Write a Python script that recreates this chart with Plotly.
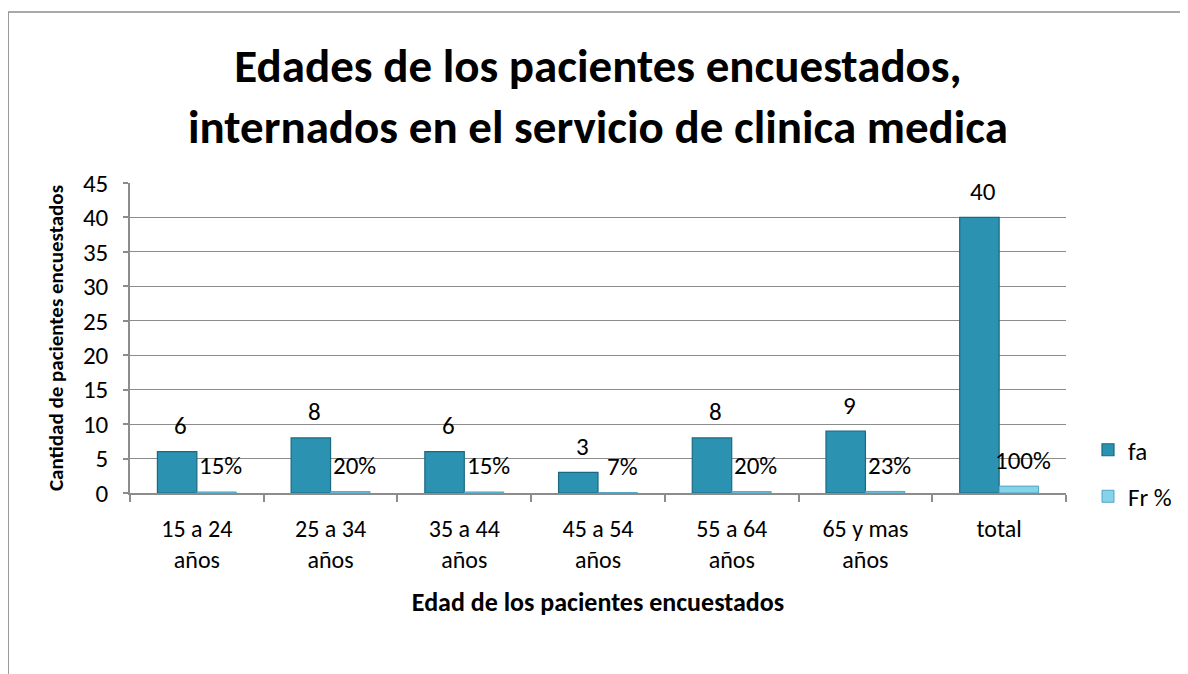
import plotly.graph_objects as go

categories = ["15 a 24<br>años", "25 a 34<br>años", "35 a 44<br>años", "45 a 54<br>años",
              "55 a 64<br>años", "65 y mas<br>años", "total"]
fa_values = [6, 8, 6, 3, 8, 9, 40]
fr_values = [0.15, 0.20, 0.15, 0.07, 0.20, 0.23, 1.00]
fa_labels = ["6", "8", "6", "3", "8", "9", "40"]
fr_labels = ["15%", "20%", "15%", "7%", "20%", "23%", "100%"]

# page body has an 8px margin, so the figure is 8px smaller than the window
OFF = 8
W, H = 1188 - OFF, 674 - OFF
ML, MT = 130 - OFF, 183 - OFF
PW, PH = 937, 310
MR, MB = W - ML - PW, H - MT - PH

FONT = "Calibri, Carlito, Lato, sans-serif"

fig = go.Figure()
fig.add_trace(go.Bar(
    name="fa", x=categories, y=fa_values, legendgroup="fa",
    marker=dict(color="#2b92b1", line=dict(color="#1b6880", width=1.2)),
))
fig.add_trace(go.Bar(
    name="Fr %", x=categories, y=fr_values, legendgroup="fr",
    marker=dict(color="#86d2e8", line=dict(color="#4ea7c3", width=1)),
))

annotations = []
for c, v, t in zip(categories, fa_values, fa_labels):
    annotations.append(dict(x=c, y=v, text=t, xref="x", yref="y", showarrow=False,
                            xshift=-16, yshift=26, yanchor="middle",
                            font=dict(family=FONT, size=25, color="#000")))
for c, v, t in zip(categories, fr_values, fr_labels):
    annotations.append(dict(x=c, y=v, text=t, xref="x", yref="y", showarrow=False,
                            xshift=24, yshift=26, yanchor="middle",
                            font=dict(family=FONT, size=25, color="#000")))

# chart area border (top and left), as in the source picture
bx0 = (8 - OFF - ML) / PW
bx1 = (W - ML) / PW
by_top = (MT + PH - (12 - OFF)) / PH
by_bot = (MT + PH - H) / PH
shapes = [
    dict(type="line", xref="paper", yref="paper", x0=bx0, x1=bx1, y0=by_top, y1=by_top,
         line=dict(color="#8c8c8c", width=1.5)),
    dict(type="line", xref="paper", yref="paper", x0=bx0, x1=bx0, y0=by_top, y1=by_bot,
         line=dict(color="#8c8c8c", width=1.5)),
]

fig.update_layout(
    width=W, height=H,
    margin=dict(l=ML, r=MR, t=MT, b=MB),
    paper_bgcolor="white", plot_bgcolor="white",
    barmode="group", bargap=0.41, bargroupgap=0,
    title=dict(text="<b>Edades de los pacientes encuestados,<br>internados en el servicio de clinica medica</b>",
               x=0.5, xref="container", xanchor="center",
               y=1 - (82 - OFF) / H, yref="container", yanchor="middle",
               font=dict(family=FONT, size=47, color="#000")),
    font=dict(family=FONT, size=24, color="#000"),
    legend=dict(x=(1088 - OFF - ML) / PW, xanchor="left",
                y=(MT + PH - (427 - OFF)) / PH, yanchor="top",
                traceorder="grouped", tracegroupgap=11,
                font=dict(family=FONT, size=25, color="#000"), bgcolor="rgba(0,0,0,0)"),
    annotations=annotations,
    shapes=shapes,
    showlegend=True,
)
fig.update_xaxes(
    type="category", showline=True, linecolor="#8c8c8c", linewidth=1.5,
    ticks="outside", tickson="boundaries", ticklen=7, tickcolor="#8c8c8c", tickwidth=1.5,
    showgrid=False, ticklabelstandoff=13,
    tickfont=dict(family=FONT, size=24, color="#000"),
    title=dict(text="<b>Edad de los pacientes encuestados</b>", standoff=20,
               font=dict(family=FONT, size=26, color="#000")),
)
fig.update_yaxes(
    range=[0, 45], dtick=5, tick0=0, showline=True, linecolor="#8c8c8c", linewidth=1.5,
    ticks="outside", ticklen=5, tickcolor="#8c8c8c", tickwidth=1.5,
    showgrid=True, gridcolor="#8c8c8c", gridwidth=1.3, zeroline=False,
    ticklabelstandoff=10,
    tickfont=dict(family=FONT, size=25, color="#000"),
    title=dict(text="<b>Cantidad de pacientes encuestados</b>", standoff=14,
               font=dict(family=FONT, size=21, color="#000")),
)

fig.write_html("out.html")
